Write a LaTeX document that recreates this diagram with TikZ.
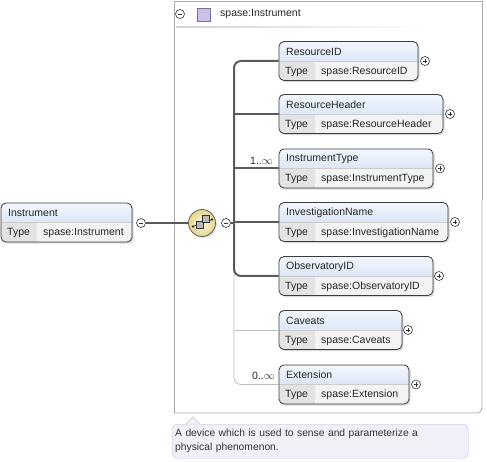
\documentclass[tikz,border=0pt]{standalone}
\usepackage{fontspec}
\setmainfont{Liberation Sans}
\usetikzlibrary{shadows}

\definecolor{boxline}{HTML}{3C3C3C}
\definecolor{hdtop}{HTML}{F3F7FD}
\definecolor{hdbot}{HTML}{C3D6F1}
\definecolor{typecell}{HTML}{E3E3E3}
\definecolor{valcell}{HTML}{F3F3F3}
\definecolor{busline}{HTML}{5A5A5A}
\definecolor{optline}{HTML}{BDBDBD}
\definecolor{framegray}{HTML}{A9A9A9}
\definecolor{seqin}{HTML}{FFFBE3}
\definecolor{seqout}{HTML}{E4D58C}
\definecolor{docbg}{HTML}{F1EFF8}
\definecolor{docline}{HTML}{C6C0D6}
\definecolor{grpfill}{HTML}{CCC0E6}
\definecolor{grpline}{HTML}{7C6E9C}

\tikzset{
  elem/.style={draw=boxline, line width=0.8pt, rounded corners=5pt, minimum height=39pt, inner sep=0pt,
    drop shadow={shadow xshift=1.6pt, shadow yshift=-1.6pt, opacity=0.3},
    path picture={
      \fill[sharp corners, top color=hdtop, bottom color=hdbot] (path picture bounding box.north west) rectangle (path picture bounding box.east);
      \fill[sharp corners, valcell] (path picture bounding box.west) rectangle (path picture bounding box.south east);
      \fill[sharp corners, typecell] (path picture bounding box.west) rectangle ([xshift=36pt]path picture bounding box.south west);
      \draw[sharp corners, gray!40, line width=0.5pt] (path picture bounding box.west) -- (path picture bounding box.east);
    }},
  lbl/.style={anchor=west, inner sep=0pt, font=\fontsize{10.5}{12}\selectfont, text=black!85},
  plusbtn/.style={circle, draw=black!80, fill=white, line width=0.6pt, minimum size=9pt, inner sep=0pt,
    path picture={
      \draw[line width=0.6pt] ([xshift=-2.3pt]path picture bounding box.center) -- ([xshift=2.3pt]path picture bounding box.center);
      \draw[line width=0.6pt] ([yshift=-2.3pt]path picture bounding box.center) -- ([yshift=2.3pt]path picture bounding box.center);
    }},
  minusbtn/.style={circle, draw=black!80, fill=white, line width=0.6pt, minimum size=9pt, inner sep=0pt,
    path picture={
      \draw[line width=0.6pt] ([xshift=-2.3pt]path picture bounding box.center) -- ([xshift=2.3pt]path picture bounding box.center);
    }},
  req/.style={draw=busline, line width=2pt},
  opt/.style={draw=optline, line width=0.8pt},
  doc/.style={draw=docline, fill=docbg, rounded corners=5pt, anchor=north west, text width=290pt,
    inner xsep=3pt, inner ysep=3pt, minimum height=34pt, align=left,
    font=\fontsize{10.3}{14}\selectfont, text=black!80}
}

\begin{document}
\begin{tikzpicture}[x=1pt,y=1pt,yscale=-1,xscale=1]
        \useasboundingbox (0,0) rectangle (487,462);

        % group frame
        \draw[framegray, line width=0.8pt] (482,200) -- (482,1) -- (174,1) -- (174,413);
        \draw[framegray, line width=0.8pt, rounded corners=5pt] (482,200) -- (482,413) -- (174,413);
        \shade[left color=gray!35, right color=white] (176,26.5) rectangle (430,28);
        \node[minusbtn] (grp-m) at (180,14) {};
        \node[draw=grpline, fill=grpfill, minimum size=13pt, inner sep=0pt] (grp-ico) at (204,15) {};
        \node[lbl] (grp-name) at (220,14) {spase:Instrument};

        % Instrument
        \node[elem, minimum width=131pt] (inst) at (66.5,222.5) {};
        \node[lbl] (inst-name) at (8,213) {Instrument};
        \node[lbl] (inst-type) at (7,233) {Type};
        \node[lbl] (inst-val) at (43,233) {spase:Instrument};
        \node[minusbtn] (inst-m) at (141,223) {};

        % sequence
        \node[circle, draw=black!65, line width=0.7pt, minimum size=27pt, inner sep=0pt, inner color=seqin, outer color=seqout,
              drop shadow={shadow xshift=1.4pt, shadow yshift=-1.4pt, opacity=0.3}] (seq) at (202,223) {};
        \draw[black!80, line width=0.7pt] (193,226.5) -- (212,219.5);
        \fill[black!80] (193,226.5) circle (1.4) (212,219.5) circle (1.4);
        \draw[black!80, fill=gray!55, line width=0.6pt] (196.5,221.5) rectangle (203,228);
        \draw[black!80, fill=gray!55, line width=0.6pt] (202.5,215.5) rectangle (209,222);
        \node[minusbtn] (seq-m) at (226,223) {};
        \coordinate (bus) at (234,223);

        % children
        \node[elem, minimum width=139pt] (rid) at (348.5,61) {};
        \node[lbl] (rid-name) at (286,51.5) {ResourceID};
        \node[lbl] (rid-type) at (285,71.5) {Type};
        \node[lbl] (rid-val) at (321,71.5) {spase:ResourceID};
        \node[plusbtn] (rid-p) at (425,61) {};

        \node[elem, minimum width=164pt] (rhdr) at (361,114) {};
        \node[lbl] (rhdr-name) at (286,104.5) {ResourceHeader};
        \node[lbl] (rhdr-type) at (285,124.5) {Type};
        \node[lbl] (rhdr-val) at (321,124.5) {spase:ResourceHeader};
        \node[plusbtn] (rhdr-p) at (450,114) {};

        \node[elem, minimum width=154pt] (itype) at (356,168.5) {};
        \node[lbl] (itype-name) at (286,159) {InstrumentType};
        \node[lbl] (itype-type) at (285,179) {Type};
        \node[lbl] (itype-val) at (321,179) {spase:InstrumentType};
        \node[plusbtn] (itype-p) at (440,168.5) {};
        \node[lbl, anchor=east] (itype-occ) at (273,161) {1..$\infty$};

        \node[elem, minimum width=169pt] (iname) at (363.5,222) {};
        \node[lbl] (iname-name) at (286,212.5) {InvestigationName};
        \node[lbl] (iname-type) at (285,232.5) {Type};
        \node[lbl] (iname-val) at (321,232.5) {spase:InvestigationName};
        \node[plusbtn] (iname-p) at (455,222) {};

        \node[elem, minimum width=154pt] (obsid) at (356,276) {};
        \node[lbl] (obsid-name) at (286,266.5) {ObservatoryID};
        \node[lbl] (obsid-type) at (285,286.5) {Type};
        \node[lbl] (obsid-val) at (321,286.5) {spase:ObservatoryID};
        \node[plusbtn] (obsid-p) at (439,276) {};

        \node[elem, minimum width=123pt] (cav) at (340.5,330) {};
        \node[lbl] (cav-name) at (286,320.5) {Caveats};
        \node[lbl] (cav-type) at (285,340.5) {Type};
        \node[lbl] (cav-val) at (321,340.5) {spase:Caveats};
        \node[plusbtn] (cav-p) at (408,330) {};

        \node[elem, minimum width=130pt] (ext) at (344,384.5) {};
        \node[lbl] (ext-name) at (286,375) {Extension};
        \node[lbl] (ext-type) at (285,395) {Type};
        \node[lbl] (ext-val) at (321,395) {spase:Extension};
        \node[plusbtn] (ext-p) at (416,384.5) {};
        \node[lbl, anchor=east] (ext-occ) at (275,376) {0..$\infty$};

        % connectors
        \draw[opt, rounded corners=7pt] (ext.west) -| (bus);
        \draw[opt] (cav.west) -- (cav.west -| bus);
        \draw[req, rounded corners=7pt] (rid.west) -| (bus);
        \draw[req, rounded corners=7pt] (obsid.west) -| (bus);
        \draw[req] (rhdr.west) -- (rhdr.west -| bus);
        \draw[req] (itype.west) -- (itype.west -| bus);
        \draw[req] (iname.west) -- (iname.west -| bus);
        \draw[req] (inst-m.east) -- (seq.west);
        \draw[req] (seq-m.east) -- (bus);

        % annotation
        \node[doc] (doc) at (172,424) {A device which is used to sense and parameterize a\\physical phenomenon.};
        \fill[docbg] (186,424.7) -- (193,417) -- (200,424.7) -- cycle;
        \draw[docline] (186,424) -- (193,417) -- (200,424);
    \end{tikzpicture}
\end{document}
